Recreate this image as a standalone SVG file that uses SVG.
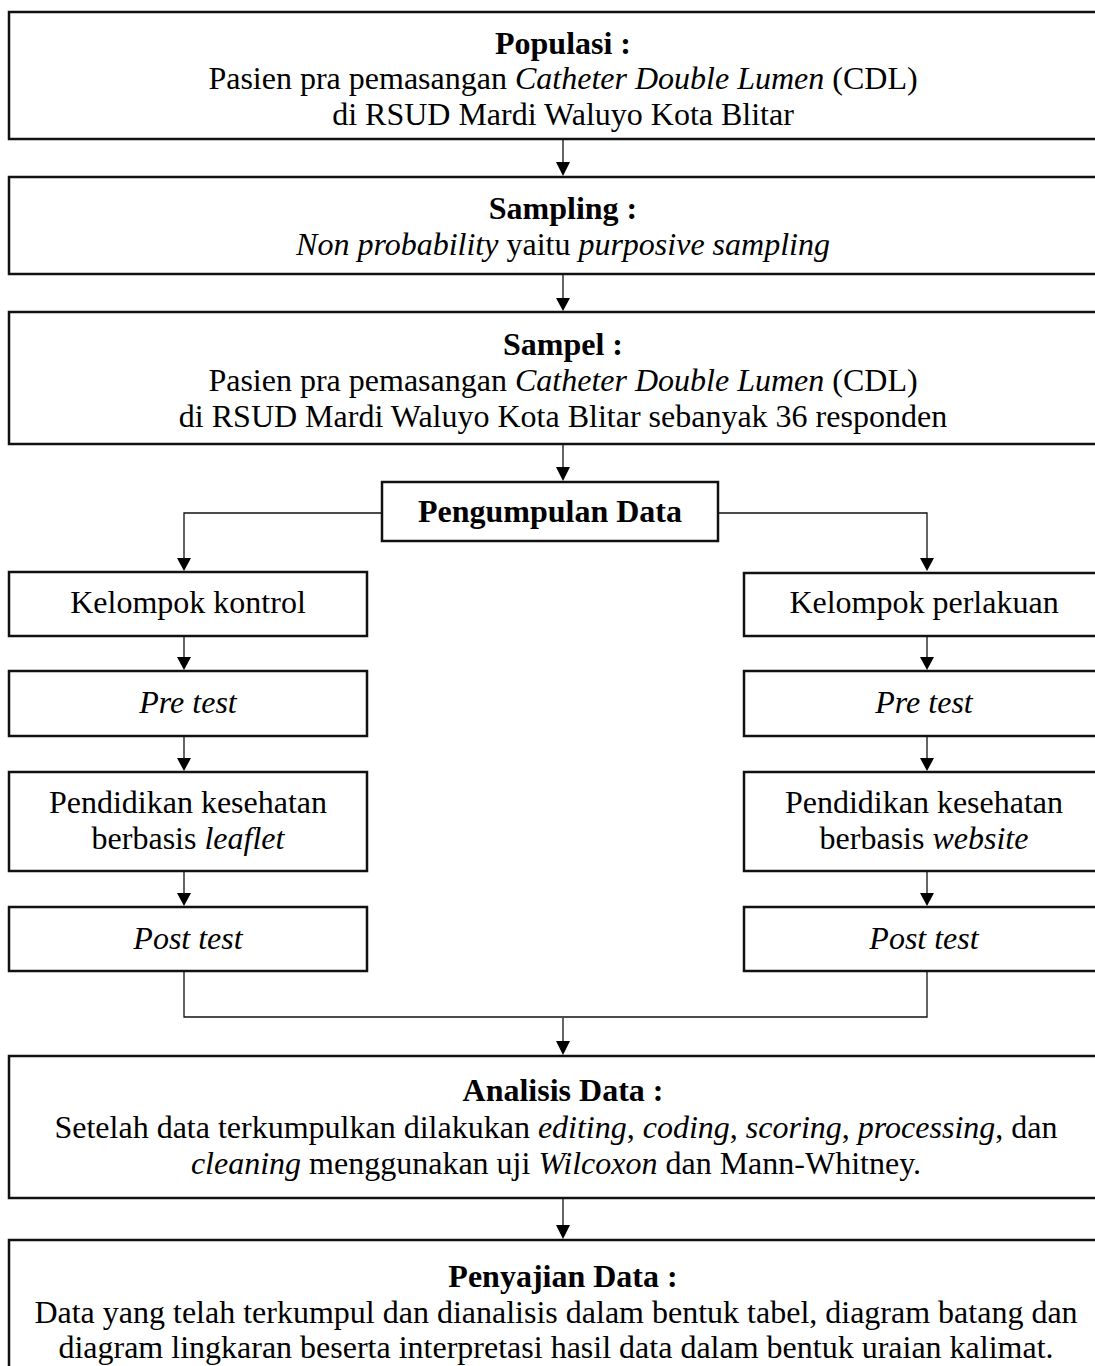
<svg xmlns="http://www.w3.org/2000/svg" width="1095" height="1366" viewBox="0 0 1095 1366">
<style>
.box{fill:#fff;stroke:#111;stroke-width:2.5}
.ln{fill:none;stroke:#111;stroke-width:1.3}
.ah{fill:#000}
text{font-family:"Liberation Serif","Times New Roman",serif;font-size:32px;fill:#000;text-anchor:middle}
.b{font-weight:bold}
.i{font-style:italic}
</style>
<rect width="1095" height="1366" fill="#fff"/>
<g id="connectors">
<path class="ln" d="M563,140 V162"/><path class="ah" d="M556,162 L570,162 L563,176 Z"/>
<path class="ln" d="M563,275 V298"/><path class="ah" d="M556,298 L570,298 L563,311 Z"/>
<path class="ln" d="M563,445 V467"/><path class="ah" d="M556,467 L570,467 L563,481 Z"/>
<path class="ln" d="M382,513 H184 V558"/><path class="ah" d="M177,558 L191,558 L184,571 Z"/>
<path class="ln" d="M718,513 H927 V558"/><path class="ah" d="M920,558 L934,558 L927,571 Z"/>
<path class="ln" d="M184,637 V657"/><path class="ah" d="M177,657 L191,657 L184,670 Z"/>
<path class="ln" d="M927,637 V657"/><path class="ah" d="M920,657 L934,657 L927,670 Z"/>
<path class="ln" d="M184,737 V758"/><path class="ah" d="M177,758 L191,758 L184,771 Z"/>
<path class="ln" d="M927,737 V758"/><path class="ah" d="M920,758 L934,758 L927,771 Z"/>
<path class="ln" d="M184,872 V893"/><path class="ah" d="M177,893 L191,893 L184,906 Z"/>
<path class="ln" d="M927,872 V893"/><path class="ah" d="M920,893 L934,893 L927,906 Z"/>
<path class="ln" d="M184,972 V1017 H927 V972"/>
<path class="ln" d="M563,1018 V1041"/><path class="ah" d="M556,1041 L570,1041 L563,1055 Z"/>
<path class="ln" d="M563,1199 V1225"/><path class="ah" d="M556,1225 L570,1225 L563,1239 Z"/>
</g>
<g id="populasi">
<rect class="box" x="9" y="12" width="1110" height="127"/>
<text x="563" y="54" class="b">Populasi :</text>
<text x="563" y="89">Pasien pra pemasangan <tspan class="i">Catheter Double Lumen</tspan> (CDL)</text>
<text x="563" y="125">di RSUD Mardi Waluyo Kota Blitar</text>
</g>
<g id="sampling">
<rect class="box" x="9" y="177" width="1110" height="97"/>
<text x="563" y="219" class="b">Sampling :</text>
<text x="563" y="255"><tspan class="i">Non probability</tspan> yaitu <tspan class="i">purposive sampling</tspan></text>
</g>
<g id="sampel">
<rect class="box" x="9" y="312" width="1110" height="132"/>
<text x="563" y="355" class="b">Sampel :</text>
<text x="563" y="391">Pasien pra pemasangan <tspan class="i">Catheter Double Lumen</tspan> (CDL)</text>
<text x="563" y="427">di RSUD Mardi Waluyo Kota Blitar sebanyak 36 responden</text>
</g>
<g id="pengumpulan">
<rect class="box" x="382" y="482" width="336" height="59"/>
<text x="550" y="522" class="b">Pengumpulan Data</text>
</g>
<g id="kontrol">
<rect class="box" x="9" y="572" width="358" height="64"/>
<text x="188" y="613">Kelompok kontrol</text>
</g>
<g id="perlakuan">
<rect class="box" x="744" y="573" width="360" height="63"/>
<text x="924" y="613">Kelompok perlakuan</text>
</g>
<g id="pretest-kontrol">
<rect class="box" x="9" y="671" width="358" height="65"/>
<text x="188" y="713" class="i">Pre test</text>
</g>
<g id="pretest-perlakuan">
<rect class="box" x="744" y="671" width="360" height="65"/>
<text x="924" y="713" class="i">Pre test</text>
</g>
<g id="pendidikan-leaflet">
<rect class="box" x="9" y="772" width="358" height="99"/>
<text x="188" y="813">Pendidikan kesehatan</text>
<text x="188" y="849">berbasis <tspan class="i">leaflet</tspan></text>
</g>
<g id="pendidikan-website">
<rect class="box" x="744" y="772" width="360" height="99"/>
<text x="924" y="813">Pendidikan kesehatan</text>
<text x="924" y="849">berbasis <tspan class="i">website</tspan></text>
</g>
<g id="posttest-kontrol">
<rect class="box" x="9" y="907" width="358" height="64"/>
<text x="188" y="949" class="i">Post test</text>
</g>
<g id="posttest-perlakuan">
<rect class="box" x="744" y="907" width="360" height="64"/>
<text x="924" y="949" class="i">Post test</text>
</g>
<g id="analisis">
<rect class="box" x="9" y="1056" width="1110" height="142"/>
<text x="563" y="1101" class="b">Analisis Data :</text>
<text x="556" y="1138">Setelah data terkumpulkan dilakukan <tspan class="i">editing</tspan>, <tspan class="i">coding</tspan>, <tspan class="i">scoring</tspan>, <tspan class="i">processing</tspan>, dan</text>
<text x="556" y="1174"><tspan class="i">cleaning</tspan> menggunakan uji <tspan class="i">Wilcoxon</tspan> dan Mann-Whitney.</text>
</g>
<g id="penyajian">
<rect class="box" x="9" y="1240" width="1110" height="140"/>
<text x="563" y="1287" class="b">Penyajian Data :</text>
<text x="556" y="1323">Data yang telah terkumpul dan dianalisis dalam bentuk tabel, diagram batang dan</text>
<text x="556" y="1358">diagram lingkaran beserta interpretasi hasil data dalam bentuk uraian kalimat.</text>
</g>
</svg>
